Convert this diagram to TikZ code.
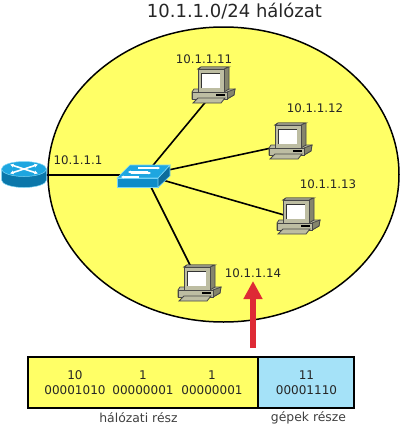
\documentclass[tikz,border=0pt]{standalone}
\usepackage{fontspec}
\setmainfont{DejaVu Sans}
\usetikzlibrary{arrows.meta,positioning}
\definecolor{netyellow}{HTML}{FFFF66}
\definecolor{hostblue}{HTML}{A5E2F8}
\definecolor{markred}{HTML}{DE2A35}
\definecolor{pcgrey}{HTML}{BDBDA2}
\definecolor{pcdark}{HTML}{85856C}
\definecolor{ciscotop}{HTML}{1EA6E0}
\definecolor{ciscofront}{HTML}{0D8CC8}
\definecolor{ciscoside}{HTML}{0B6C9C}
\definecolor{ciscoedge}{HTML}{7CD6F6}
\tikzset{
pcline/.style={draw=black!72,line width=.8pt},
computer/.pic={
\draw[pcline,fill=pcgrey] (-21,7)--(-19,4)--(22,4)--(21,10)--(14,14)--(-21,14)--cycle;
\draw[pcline,fill=pcdark] (14,7)--(22,4)--(21,10)--(14,14)--cycle;
\draw[pcline,fill=pcgrey] (-21,7)--(14,7)--(14,14)--(-21,14)--cycle;
\draw[black,line width=1.1pt] (3,10)--(12,10);
\draw[pcline,fill=pcgrey] (-20,18)--(-15,13)--(12,13)--(8,18)--cycle;
\draw[pcline,fill=pcdark] (-12,-18)--(16,-18)--(16,4)--(11,7)--(-15,-16)--cycle;
\draw[pcline,fill=pcgrey] (-15,-16)--(-12,-18)--(16,-18)--(11,-16)--cycle;
\draw[pcline,fill=pcgrey] (-15,-16) rectangle (11,7);
\fill[white] (-12,-12) rectangle (7,3);
\draw[black!80,line width=.8pt] (-12,3)--(-12,-12)--(7,-12);
},
router/.pic={
\draw[ciscoedge,line width=.5pt,fill=ciscofront!85!black] (-22.5,-6)--(-22.5,5) arc[start angle=180,end angle=360,x radius=22.5pt,y radius=7.5pt]--(22.5,-6)--cycle;
\draw[ciscoedge,line width=.5pt,fill=ciscotop] (0,-6) ellipse[x radius=22.5pt,y radius=7.5pt];
\foreach \rdx/\rdy in {-14/-10.5,14/-10.5,-14/-1.5,14/-1.5}
\draw[white,line width=1.6pt,-{Latex[length=3.5pt,width=4pt]}] (0,-6)--(\rdx,\rdy);
},
switchbox/.pic={
\draw[ciscoedge,line width=.6pt,fill=ciscofront] (-28,3) rectangle (13,12.5);
\draw[ciscoedge,line width=.6pt,fill=ciscoside] (13,3)--(25,-10)--(25,1)--(13,12.5)--cycle;
\draw[ciscoedge,line width=.6pt,fill=ciscotop] (-28,3)--(-15,-10)--(25,-10)--(13,3)--cycle;
\foreach \swy/\swa/\swb in {-7/-7/15,-2/-14/6}
{\draw[white,line width=1.2pt,-{Latex[length=2.5pt,width=3.2pt]}] (\swa,\swy)--(\swb,\swy);
\draw[white,line width=1.2pt,-{Latex[length=2.5pt,width=3.2pt]}] (\swb-12,\swy+4)--(\swa-10,\swy+4);}
}}
\begin{document}
\begin{tikzpicture}[x=1pt,y=-1pt,
addr/.style={font=\fontsize{11.8}{14}\selectfont,text=black!85,inner sep=0pt},
bits/.style={font=\fontsize{12}{15}\selectfont,text=black!85,align=center,inner sep=0pt},
part/.style={font=\fontsize{12.4}{14}\selectfont,text=black!75,inner sep=0pt},
link/.style={black,line width=1.6pt}]
\useasboundingbox (0,0) rectangle (400,426);
\node[font=\fontsize{18}{22}\selectfont,text=black!85,inner sep=0pt] (title) at (234.5,11) {10.1.1.0/24 hálózat};
\draw[black,line width=1.5pt,fill=netyellow] (223.5,174.5) ellipse[x radius=175.5pt,y radius=147.5pt];
\coordinate (rt) at (24,175);
\coordinate (sw) at (145,175);
\coordinate (pc1) at (213,93);
\coordinate (pc2) at (290,144);
\coordinate (pc3) at (298,219);
\coordinate (pc4) at (199,283);
\draw[link] (rt)--(sw);
\draw[link] (sw)--(pc1);
\draw[link] (sw)--(pc2);
\draw[link] (sw)--(pc3);
\draw[link] (sw)--(pc4);
\pic at (rt) {router};
\pic at (sw) {switchbox};
\pic at ([yshift=8pt]pc1) {computer};
\pic at ([yshift=3pt]pc2) {computer};
\pic at ([yshift=3pt]pc3) {computer};
\pic at (pc4) {computer};
\node[addr] (gw) at (78,160) {10.1.1.1};
\node[addr] (a1) at (204,59) {10.1.1.11};
\node[addr] (a2) at (315,108) {10.1.1.12};
\node[addr] (a3) at (328,184) {10.1.1.13};
\node[addr] (a4) at (253,273) {10.1.1.14};
\node[draw=black,line width=1.5pt,fill=netyellow,minimum width=230pt,minimum height=51pt,inner sep=0pt] (netpart) at (143,382.5) {};
\node[draw=black,line width=1.5pt,fill=hostblue,minimum width=96pt,minimum height=51pt,inner sep=0pt] (hostpart) at (306,382.5) {};
\node[bits] (b1) at (75,382.5) {10\\00001010};
\node[bits] (b2) at (143,382.5) {1\\00000001};
\node[bits] (b3) at (212,382.5) {1\\00000001};
\node[bits] (b4) at (306.5,382.5) {11\\00001110};
\node[part] (netlabel) at (138.5,418) {hálózati rész};
\node[part] (hostlabel) at (308.5,418) {gépek része};
\coordinate (mark) at (253,348);
\coordinate (tip) at (253,281);
\draw[markred,line width=6.5pt,-{Triangle[length=18pt,width=18pt]}] (mark)--(tip);
\end{tikzpicture}
\end{document}
